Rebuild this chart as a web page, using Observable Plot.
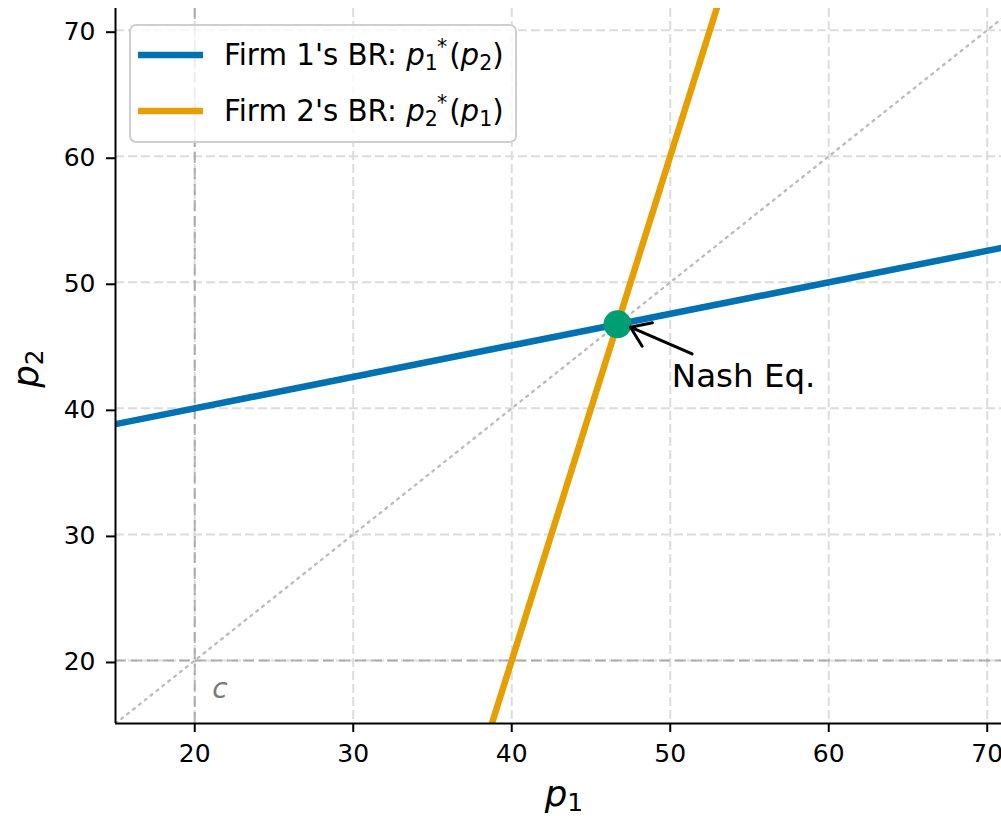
<!DOCTYPE html>
<html>
<head>
<meta charset="utf-8">
<script src="https://cdn.jsdelivr.net/npm/d3@7"></script>
<script src="https://cdn.jsdelivr.net/npm/@observablehq/plot@0.6"></script>
<style>
  body { margin: 0; background: #fff; }
  #chart svg { font-family: "DejaVu Sans", sans-serif; }
</style>
</head>
<body>
<div id="chart"></div>
<script>
// ---- data ----
const xTicks = [20, 30, 40, 50, 60, 70];
const yTicks = [20, 30, 40, 50, 60, 70];
const firm1P1 = [15, 72];        // Firm 1's best response line (p1 values)
const firm1P2 = [38.75, 53];     // ... matching p2 values
const firm2P1 = [38.75, 53];     // Firm 2's best response line (p1 values)
const firm2P2 = [15, 72];        // ... matching p2 values
const diagonalP = [15, 72];      // 45-degree reference line
const marginalCost = [20];       // c
const nashP1 = [46.67];
const nashP2 = [46.67];
const nashLabel = "Nash Eq.";
const nashLabelPos = [50.1, 42.5];
const nashArrowTail = [51.38, 44.32];
const nashArrowTip = [47.49, 46.44];
const costLabel = "c";
const costLabelPos = [21.1, 17.7];
const legendLabels = ["Firm 1's BR: ", "Firm 2's BR: "];
const colors = { firm1: "#0072B2", firm2: "#E69F00", nash: "#009E73" };

// ---- build tables ----
const firm1 = firm1P1.map((p1, i) => ({ p1, p2: firm1P2[i] }));
const firm2 = firm2P1.map((p1, i) => ({ p1, p2: firm2P2[i] }));
const diag = diagonalP.map(p => ({ p1: p, p2: p }));
const nash = nashP1.map((p1, i) => ({ p1, p2: nashP2[i] }));

const W = 1001, H = 816;
const mL = 115, mR = 0, mT = 8, mB = 93;
const tickFont = 25;

const chart = Plot.plot({
  width: W,
  height: H,
  marginLeft: mL,
  marginRight: mR,
  marginTop: mT,
  marginBottom: mB,
  style: { fontFamily: "DejaVu Sans", fontSize: "22px", background: "#fff", color: "#000" },
  x: { domain: [15, 70.9], label: null },
  y: { domain: [15, 71.72], label: null },
  marks: [
    Plot.gridX(xTicks, { stroke: "#dcdcdc", strokeOpacity: 1, strokeWidth: 2, strokeDasharray: "9,4" }),
    Plot.gridY(yTicks, { stroke: "#dcdcdc", strokeOpacity: 1, strokeWidth: 2, strokeDasharray: "9,4" }),
    Plot.ruleX(marginalCost, { stroke: "#9a9a9a", strokeOpacity: 0.75, strokeWidth: 2, strokeDasharray: "11,5" }),
    Plot.ruleY(marginalCost, { stroke: "#9a9a9a", strokeOpacity: 0.75, strokeWidth: 2, strokeDasharray: "11,5" }),
    Plot.line(diag, { x: "p1", y: "p2", stroke: "#bdbdbd", strokeWidth: 2.4, strokeDasharray: "2,5.5", clip: true }),
    Plot.line(firm1, { x: "p1", y: "p2", stroke: colors.firm1, strokeWidth: 6.5, clip: true }),
    Plot.line(firm2, { x: "p1", y: "p2", stroke: colors.firm2, strokeWidth: 6.5, clip: true }),
    Plot.dot(nash, { x: "p1", y: "p2", r: 14, fill: colors.nash, stroke: "none" }),
    Plot.arrow([{ x1: nashArrowTail[0], y1: nashArrowTail[1], x2: nashArrowTip[0], y2: nashArrowTip[1] }],
      { x1: "x1", y1: "y1", x2: "x2", y2: "y2", stroke: "#000", strokeWidth: 3, headLength: 14, headAngle: 70 }),
    Plot.text([nashLabel], { x: () => nashLabelPos[0], y: () => nashLabelPos[1], text: d => d,
      textAnchor: "start", lineAnchor: "middle", fontSize: 32.5, fill: "#000" }),
    Plot.text([costLabel], { x: () => costLabelPos[0], y: () => costLabelPos[1], text: d => d,
      textAnchor: "start", lineAnchor: "middle", fontSize: 28, fontStyle: "italic", fill: "#7a7a7a" }),
    Plot.ruleX([15], { stroke: "#000", strokeWidth: 2 }),
    Plot.ruleY([15], { stroke: "#000", strokeWidth: 2 }),
    Plot.axisX(xTicks, { tickSize: 9, tickPadding: 12, fontSize: tickFont, strokeWidth: 2, label: null, fill: "#000" }),
    Plot.axisY(yTicks, { tickSize: 9, tickPadding: 11, fontSize: tickFont, strokeWidth: 2, label: null, fill: "#000", dy: 2 })
  ]
});

document.getElementById("chart").appendChild(chart);

const svg = d3.select(chart);

// ---- math-text helper ----
function mathText(parent, x, y, size, segs, attrs = {}) {
  const t = parent.append("text")
    .attr("x", x).attr("y", y)
    .attr("font-family", "DejaVu Sans")
    .attr("font-size", size)
    .attr("text-anchor", "start")
    .attr("fill", "#000");
  Object.entries(attrs).forEach(([k, v]) => t.attr(k, v));
  let prevShift = 0;
  segs.forEach(s => {
    const shift = s.shift || 0;
    const ts = t.append("tspan")
      .text(s.t)
      .attr("dy", shift - prevShift);
    if (s.dx) ts.attr("dx", s.dx);
    if (s.italic) ts.attr("font-style", "italic");
    if (s.scale) ts.attr("font-size", size * s.scale);
    prevShift = shift;
  });
  return t;
}

// axis labels p_1 and p_2
mathText(svg, 0, 0, 35.5, [
  { t: "p", italic: true },
  { t: "1", scale: 0.7, shift: 5 }
], { "text-anchor": "middle", transform: `translate(${(mL + W - mR) / 2 + 6},806)` });

mathText(svg, 0, 0, 35.5, [
  { t: "p", italic: true },
  { t: "2", scale: 0.7, shift: 5 }
], { "text-anchor": "middle", transform: `translate(38,${(mT + H - mB) / 2 + 3}) rotate(-90)` });

// legend
const lg = svg.append("g");
lg.append("rect")
  .attr("x", 130).attr("y", 25).attr("width", 386).attr("height", 117)
  .attr("rx", 6).attr("fill", "#fff").attr("fill-opacity", 0.8)
  .attr("stroke", "#cfcfcf").attr("stroke-width", 2);

const legendRows = [
  { color: colors.firm1, label: legendLabels[0], a: "1", b: "2" },
  { color: colors.firm2, label: legendLabels[1], a: "2", b: "1" }
];
legendRows.forEach((r, i) => {
  const yMid = 55 + i * 56;
  lg.append("line")
    .attr("x1", 138).attr("x2", 203).attr("y1", yMid).attr("y2", yMid)
    .attr("stroke", r.color).attr("stroke-width", 6.5);
  mathText(lg, 224, yMid + 9.5, 29.3, [
    { t: r.label.replace(/ $/, "\u00a0") },
    { t: "p", italic: true },
    { t: r.a, scale: 0.7, shift: 5 },
    { t: "*", scale: 0.7, shift: -11, dx: -1 },
    { t: "(", shift: 0, dx: 2 },
    { t: "p", italic: true },
    { t: r.b, scale: 0.7, shift: 5 },
    { t: ")", shift: 0 }
  ]);
});
</script>
</body>
</html>
